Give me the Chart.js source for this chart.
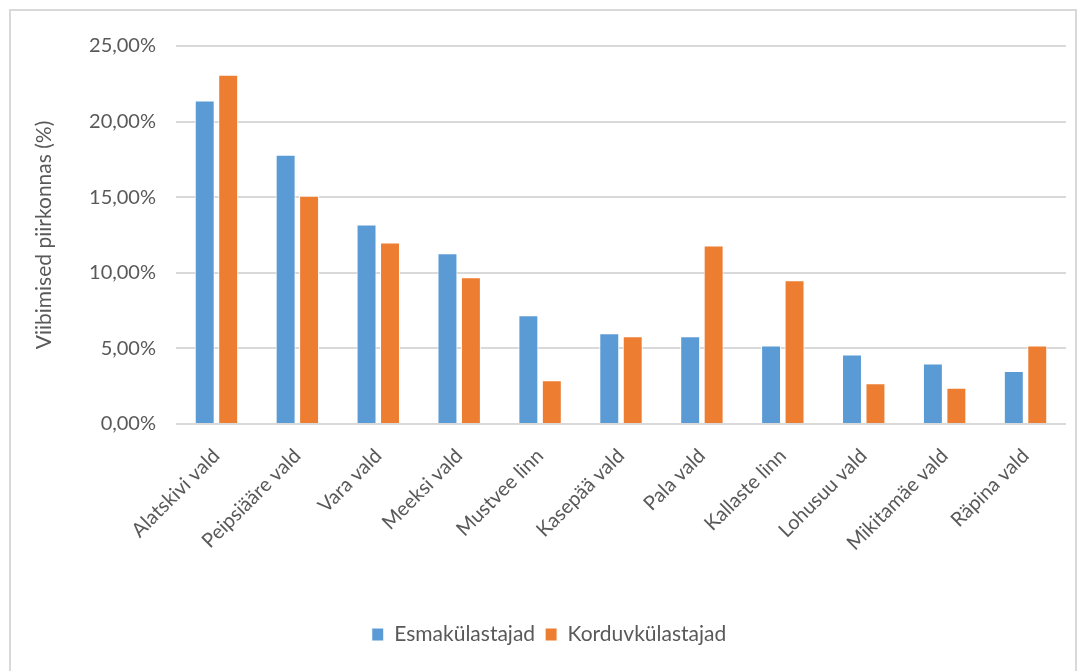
<!DOCTYPE html>
<html>
<head>
<meta charset="utf-8">
<script src="https://cdn.jsdelivr.net/npm/chart.js@4"></script>
<style>
  html, body { margin: 0; padding: 0; background: #fff; }
  #wrap { position: absolute; left: 0; top: 0; width: 1081px; height: 671px; }
  #frame { position: absolute; left: 9px; top: 9px; width: 1068px; height: 680px; border: 2px solid #d9d9d9; box-sizing: border-box; }
  canvas { position: absolute; left: 0; top: 0; }
</style>
</head>
<body>
<div id="wrap">
  <div id="frame"></div>
  <canvas id="chart" width="1081" height="671"></canvas>
</div>
<script>
'use strict'

// municipalities on the x axis
const regions = [
  'Alatskivi vald', 'Peipsiääre vald', 'Vara vald', 'Meeksi vald', 'Mustvee linn',
  'Kasepää vald', 'Pala vald', 'Kallaste linn', 'Lohusuu vald', 'Mikitamäe vald', 'Räpina vald'
]

// share of stays, percent
const firstVisitors = [21.4, 17.8, 13.2, 11.3, 7.2, 6.0, 5.8, 5.2, 4.6, 4.0, 3.5]
const repeatVisitors = [23.1, 15.1, 12.0, 9.7, 2.9, 5.8, 11.8, 9.5, 2.7, 2.4, 5.2]

const seriesNames = ['Esmakülastajad', 'Korduvkülastajad']
const yTicks = [0, 5, 10, 15, 20, 25]

const textColor = '#595959'
const gridColor = '#d9d9d9'
const fontFamily = 'Lato, "Open Sans", sans-serif'

const ctx = document.getElementById('chart')

const chart = new Chart(ctx, {
  type: 'bar',
  data: {
    labels: regions,
    datasets: [{
      label: seriesNames[0],
      data: firstVisitors,
      backgroundColor: '#5b9bd5',
      borderColor: '#ffffff',
      borderWidth: 1
    },
    {
      label: seriesNames[1],
      data: repeatVisitors,
      backgroundColor: '#ed7d31',
      borderColor: '#ffffff',
      borderWidth: 1
    }]
  },
  options: {
    responsive: false,
    animation: false,
    categoryPercentage: 0.58,
    barPercentage: 0.85,
    layout: { padding: { left: 32, right: 15, top: 46, bottom: 16 } },
    plugins: {
      legend: {
        position: 'bottom',
        labels: {
          color: textColor,
          font: { family: fontFamily, size: 21 },
          boxWidth: 12,
          boxHeight: 13,
          padding: 10
        }
      },
      tooltip: { enabled: false }
    },
    scales: {
      x: {
        grid: { display: false },
        border: { display: false },
        ticks: {
          color: textColor,
          font: { family: fontFamily, size: 20 },
          minRotation: 45,
          maxRotation: 45,
          padding: 12
        },
        afterFit: scale => { scale.height = 190 } // keeps the plot bottom where it is
      },
      y: {
        min: 0,
        max: 25,
        afterBuildTicks: scale => { scale.ticks = yTicks.map(v => ({ value: v })) },
        grid: { color: gridColor, lineWidth: 2, drawTicks: false },
        border: { display: false },
        ticks: {
          color: textColor,
          font: { family: fontFamily, size: 20 },
          padding: 20,
          callback: v => v.toFixed(2).replace('.', ',') + '%'
        },
        title: {
          display: true,
          text: 'Viibimised piirkonnas (%)',
          color: textColor,
          font: { family: fontFamily, size: 21 },
          padding: 0
        },
        afterFit: scale => { scale.width = 144 }
      }
    }
  }
})
</script>
</body>
</html>
